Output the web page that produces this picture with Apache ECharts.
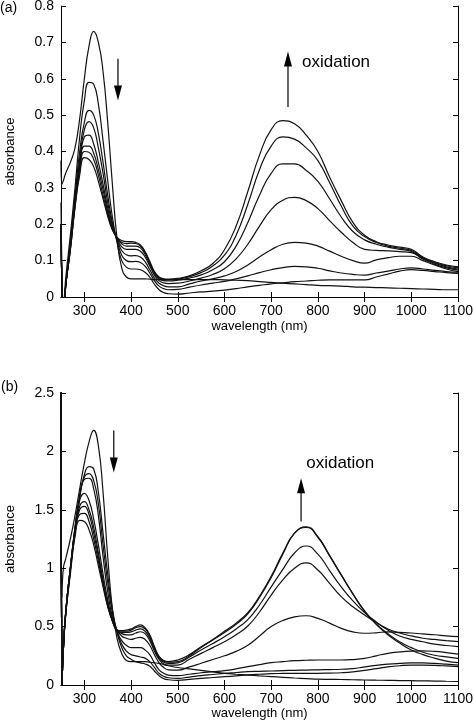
<!DOCTYPE html>
<html><head><meta charset="utf-8">
<script src="https://cdn.jsdelivr.net/npm/echarts@6/dist/echarts.min.js"></script>
<style>html,body{margin:0;padding:0;background:#fff}#c{width:474px;height:726px}</style>
</head><body><div id="c"></div>
<script>
// wavelength grid (nm)
const WL = [250,252,255,260,270,280,290,300,310,320,330,340,350,360,370,380,390,400,410,420,430,440,450,460,470,480,
            500,525,550,575,600,625,650,675,700,725,750,775,800,825,850,875,900,925,950,975,1000,1025,1050,1075,1100];
const X_TICKS = [300,400,500,600,700,800,900,1000,1100];

// panel (a) spectra (absorbance)
const a0 = [0.375,0.31,0.32,0.34,0.37,0.41,0.49,0.6,0.69,0.73,0.7,0.62,0.48,0.31,0.16,0.08,0.055,0.05,0.05,0.05,0.05,0.049,0.048,0.048,0.048,0.048,
            0.048,0.048,0.048,0.048,0.047,0.046,0.045,0.042,0.04,0.038,0.036,0.034,0.032,0.031,0.03,0.028,0.027,0.026,0.025,0.024,0.023,0.022,0.021,0.02,0.02];
const a1 = [0.26,0.08,-0.03,0.05,0.17,0.3,0.44,0.54,0.59,0.585,0.53,0.43,0.32,0.22,0.15,0.1,0.082,0.077,0.077,0.075,0.068,0.055,0.035,0.02,0.012,0.009,
            0.008,0.011,0.014,0.016,0.019,0.023,0.028,0.032,0.036,0.039,0.042,0.044,0.046,0.047,0.047,0.047,0.047,0.055,0.063,0.071,0.075,0.073,0.07,0.067,0.065];
const a2 = [0.2,0.03,-0.05,0.03,0.15,0.28,0.4,0.48,0.513,0.5,0.45,0.37,0.28,0.205,0.155,0.115,0.1,0.097,0.098,0.095,0.085,0.066,0.045,0.03,0.023,0.02,
            0.021,0.027,0.033,0.038,0.043,0.05,0.058,0.067,0.075,0.081,0.084,0.083,0.079,0.072,0.066,0.062,0.06,0.066,0.071,0.077,0.08,0.077,0.073,0.07,0.068];
const a3 = [0.2,0.03,-0.05,0.03,0.14,0.27,0.38,0.46,0.482,0.465,0.41,0.34,0.26,0.198,0.158,0.128,0.116,0.113,0.114,0.11,0.097,0.075,0.052,0.038,0.031,0.028,
            0.028,0.036,0.044,0.05,0.058,0.07,0.088,0.11,0.13,0.145,0.15,0.148,0.14,0.126,0.112,0.1,0.093,0.102,0.108,0.112,0.112,0.1,0.088,0.077,0.07];
const a4 = [0.2,0.03,-0.05,0.03,0.14,0.26,0.37,0.44,0.445,0.42,0.37,0.31,0.245,0.192,0.16,0.138,0.131,0.131,0.131,0.126,0.11,0.085,0.06,0.045,0.039,0.037,
            0.038,0.044,0.052,0.062,0.078,0.105,0.145,0.195,0.24,0.266,0.274,0.265,0.243,0.21,0.178,0.15,0.131,0.128,0.127,0.125,0.122,0.104,0.09,0.08,0.074];
const a5 = [0.2,0.03,-0.05,0.03,0.13,0.255,0.355,0.415,0.415,0.395,0.35,0.295,0.235,0.188,0.162,0.146,0.14,0.14,0.14,0.135,0.117,0.09,0.065,0.05,0.045,0.044,
            0.046,0.052,0.061,0.075,0.097,0.14,0.205,0.28,0.34,0.366,0.366,0.348,0.318,0.27,0.22,0.18,0.157,0.145,0.137,0.131,0.125,0.106,0.093,0.083,0.077];
const a6 = [0.2,0.03,-0.05,0.03,0.13,0.25,0.345,0.4,0.398,0.378,0.335,0.28,0.228,0.186,0.163,0.15,0.147,0.148,0.147,0.14,0.122,0.095,0.068,0.053,0.048,0.047,
            0.049,0.056,0.067,0.085,0.115,0.17,0.255,0.35,0.415,0.44,0.434,0.41,0.375,0.315,0.25,0.195,0.166,0.15,0.14,0.134,0.128,0.108,0.095,0.086,0.08];
const a7 = [0.2,0.03,-0.05,0.03,0.13,0.245,0.335,0.383,0.378,0.358,0.318,0.27,0.222,0.184,0.164,0.155,0.152,0.152,0.15,0.143,0.125,0.098,0.07,0.055,0.05,0.049,
            0.051,0.058,0.072,0.092,0.13,0.195,0.29,0.39,0.46,0.485,0.476,0.445,0.4,0.33,0.265,0.205,0.17,0.152,0.143,0.137,0.131,0.11,0.097,0.088,0.083];

// panel (b) spectra (absorbance)
const b0 = [2.6,0.75,1.0,1.08,1.25,1.45,1.68,1.9,2.08,2.18,2.05,1.65,1.1,0.65,0.4,0.27,0.21,0.2,0.2,0.2,0.2,0.195,0.19,0.185,0.175,0.165,
            0.15,0.138,0.125,0.112,0.1,0.092,0.085,0.078,0.072,0.066,0.06,0.055,0.05,0.048,0.047,0.045,0.043,0.041,0.04,0.038,0.037,0.035,0.034,0.032,0.03];
const b1 = [2.6,0,0.3,0.6,0.95,1.3,1.6,1.8,1.87,1.85,1.65,1.3,0.95,0.65,0.45,0.32,0.25,0.22,0.2,0.19,0.18,0.16,0.12,0.08,0.055,0.045,
            0.04,0.048,0.057,0.064,0.071,0.078,0.086,0.092,0.097,0.099,0.1,0.1,0.1,0.102,0.105,0.112,0.125,0.14,0.155,0.165,0.17,0.17,0.168,0.163,0.157];
const b2 = [2.6,0,0.3,0.6,0.97,1.33,1.62,1.78,1.81,1.75,1.55,1.2,0.88,0.62,0.46,0.35,0.29,0.26,0.25,0.24,0.23,0.2,0.15,0.1,0.075,0.062,
            0.057,0.068,0.08,0.09,0.1,0.107,0.114,0.117,0.12,0.123,0.126,0.128,0.13,0.132,0.135,0.14,0.155,0.168,0.178,0.185,0.19,0.189,0.185,0.178,0.171];
const b3 = [2.6,0,0.3,0.6,0.98,1.35,1.62,1.76,1.77,1.68,1.45,1.1,0.8,0.58,0.46,0.38,0.34,0.32,0.32,0.32,0.3,0.26,0.19,0.13,0.1,0.085,
            0.08,0.092,0.105,0.114,0.123,0.138,0.157,0.175,0.191,0.2,0.208,0.212,0.214,0.214,0.214,0.218,0.228,0.25,0.271,0.283,0.29,0.292,0.288,0.278,0.265];
const b4 = [2.6,0,0.3,0.62,1.0,1.35,1.58,1.64,1.58,1.42,1.2,0.95,0.73,0.56,0.47,0.42,0.4,0.39,0.4,0.408,0.39,0.34,0.26,0.19,0.15,0.13,
            0.128,0.155,0.186,0.218,0.25,0.288,0.34,0.42,0.5,0.552,0.583,0.593,0.57,0.53,0.485,0.455,0.443,0.447,0.455,0.45,0.445,0.437,0.43,0.42,0.414];
const b5 = [2.6,0,0.3,0.62,1.0,1.33,1.53,1.57,1.5,1.35,1.13,0.9,0.7,0.55,0.47,0.44,0.43,0.43,0.445,0.456,0.44,0.38,0.29,0.22,0.18,0.17,
            0.171,0.22,0.271,0.32,0.371,0.43,0.505,0.625,0.77,0.9,1.0,1.045,0.985,0.87,0.756,0.67,0.6,0.535,0.48,0.445,0.42,0.4,0.39,0.38,0.371];
const b6 = [2.6,0,0.3,0.62,1.0,1.32,1.5,1.53,1.46,1.3,1.1,0.88,0.69,0.55,0.47,0.45,0.45,0.455,0.47,0.48,0.46,0.4,0.31,0.23,0.195,0.185,
            0.19,0.24,0.3,0.355,0.414,0.48,0.56,0.685,0.84,0.99,1.13,1.19,1.12,0.98,0.84,0.72,0.62,0.54,0.47,0.42,0.39,0.37,0.35,0.338,0.328];
const b7 = [2.6,0,0.3,0.62,1.0,1.3,1.46,1.47,1.4,1.25,1.06,0.86,0.68,0.55,0.47,0.46,0.46,0.47,0.49,0.5,0.48,0.42,0.32,0.24,0.205,0.195,
            0.2,0.25,0.32,0.385,0.45,0.52,0.61,0.75,0.92,1.12,1.3,1.35,1.265,1.105,0.94,0.78,0.63,0.52,0.44,0.37,0.32,0.28,0.255,0.24,0.228];
const b8 = [2.6,0,0.3,0.62,1.0,1.27,1.41,1.4,1.33,1.2,1.02,0.84,0.67,0.55,0.47,0.465,0.47,0.48,0.5,0.515,0.49,0.43,0.33,0.245,0.21,0.2,
            0.214,0.26,0.328,0.39,0.46,0.53,0.62,0.76,0.93,1.13,1.3,1.355,1.27,1.11,0.945,0.78,0.635,0.52,0.43,0.36,0.3,0.26,0.23,0.205,0.191];

const SPECTRA_A = [a0,a1,a2,a3,a4,a5,a6,a7];
const SPECTRA_B = [b0,b1,b2,b3,b4,b5,b6,b7,b8];

// annotation anchors in data units: [wavelength, tail absorbance, tip absorbance]
const ARROW_A_DOWN = [372, 0.655, 0.54];
const ARROW_A_UP = [736, 0.522, 0.675];
const ARROW_B_DOWN = [363, 2.18, 1.82];
const ARROW_B_UP = [764, 1.40, 1.77];
const LABEL_A = [766, 0.646];
const LABEL_B = [775, 1.895];

const FONT = '"Liberation Sans", Arial, Helvetica, sans-serif';
const chart = echarts.init(document.getElementById('c'), null, {renderer: 'canvas'});

function xAxes(gi, gap) {
  return [
    {gridIndex: gi, type: 'value', min: 250, max: 1100, position: 'bottom',
     name: 'wavelength (nm)', nameLocation: 'middle', nameGap: gap,
     nameTextStyle: {fontFamily: FONT, fontSize: 13, color: '#000'},
     axisLine: {lineStyle: {color: '#000', width: 1}},
     axisTick: {inside: true, length: 5, customValues: X_TICKS, lineStyle: {color: '#000'}},
     axisLabel: {customValues: X_TICKS, formatter: v => String(v), fontFamily: FONT, fontSize: 14, color: '#000', margin: 7, hideOverlap: false},
     splitLine: {show: false}},
    {gridIndex: gi, type: 'value', min: 250, max: 1100, position: 'top',
     axisLine: {lineStyle: {color: '#000', width: 1}},
     axisTick: {inside: true, length: 5, customValues: X_TICKS, lineStyle: {color: '#000'}},
     axisLabel: {show: false}, splitLine: {show: false}}
  ];
}
function yAxes(gi, max, interval) {
  return [
    {gridIndex: gi, type: 'value', min: 0, max: max, interval: interval, position: 'left',
     name: 'absorbance', nameLocation: 'middle', nameGap: 44, nameRotate: 90,
     nameTextStyle: {fontFamily: FONT, fontSize: 13, color: '#000'},
     axisLine: {show: true, lineStyle: {color: '#000', width: 1}},
     axisTick: {show: true, inside: true, length: 5, lineStyle: {color: '#000'}},
     axisLabel: {fontFamily: FONT, fontSize: 14, color: '#000', margin: 7},
     splitLine: {show: false}},
    {gridIndex: gi, type: 'value', min: 0, max: max, interval: interval, position: 'right',
     axisLine: {show: true, lineStyle: {color: '#000', width: 1}},
     axisTick: {show: true, inside: true, length: 5, lineStyle: {color: '#000'}},
     axisLabel: {show: false}, splitLine: {show: false}}
  ];
}
function mkSeries(arr, xi, yi) {
  return {type: 'line', xAxisIndex: xi, yAxisIndex: yi, showSymbol: false, symbol: 'none',
    smooth: 0.5, clip: true, silent: true, animation: false,
    lineStyle: {color: '#111', width: 1.2},
    data: WL.map((w, i) => [w, arr[i]])};
}

const series = [];
SPECTRA_A.forEach(s => series.push(mkSeries(s, 0, 0)));
SPECTRA_B.forEach(s => series.push(mkSeries(s, 2, 2)));

chart.setOption({
  animation: false,
  backgroundColor: '#fff',
  grid: [
    {left: 61, top: 6, width: 397, height: 291, containLabel: false, outerBoundsMode: 'none'},
    {left: 61, top: 393, width: 397, height: 292, containLabel: false, outerBoundsMode: 'none'}
  ],
  xAxis: xAxes(0, 23).concat(xAxes(1, 19)),
  yAxis: yAxes(0, 0.8, 0.1).concat(yAxes(1, 2.5, 0.5)),
  series: series
});

function arrow(gi, spec) {
  const tail = chart.convertToPixel({gridIndex: gi}, [spec[0], spec[1]]);
  const tip = chart.convertToPixel({gridIndex: gi}, [spec[0], spec[2]]);
  const dir = tip[1] > tail[1] ? 1 : -1;
  const headLen = 15, half = 4;
  return [
    {type: 'line', silent: true, shape: {x1: tail[0], y1: tail[1], x2: tip[0], y2: tip[1] - dir * headLen * 0.6},
     style: {stroke: '#000', lineWidth: 1.2}},
    {type: 'polygon', silent: true, shape: {points: [[tip[0], tip[1]], [tip[0] - half, tip[1] - dir * headLen], [tip[0] + half, tip[1] - dir * headLen]]},
     style: {fill: '#000'}}
  ];
}
function label(gi, spec) {
  const p = chart.convertToPixel({gridIndex: gi}, spec);
  return {type: 'text', silent: true, x: p[0], y: p[1],
    style: {text: 'oxidation', fontFamily: FONT, fontSize: 17, fill: '#000', textAlign: 'left', textVerticalAlign: 'middle'}};
}

const g = [].concat(
  arrow(0, ARROW_A_DOWN), arrow(0, ARROW_A_UP), arrow(1, ARROW_B_DOWN), arrow(1, ARROW_B_UP),
  [label(0, LABEL_A), label(1, LABEL_B),
   {type: 'text', silent: true, x: 0, y: 1, style: {text: '(a)', fontFamily: FONT, fontSize: 14, fill: '#000'}},
   {type: 'text', silent: true, x: 1, y: 380, style: {text: '(b)', fontFamily: FONT, fontSize: 14, fill: '#000'}}]
);
chart.setOption({graphic: g});
</script></body></html>
